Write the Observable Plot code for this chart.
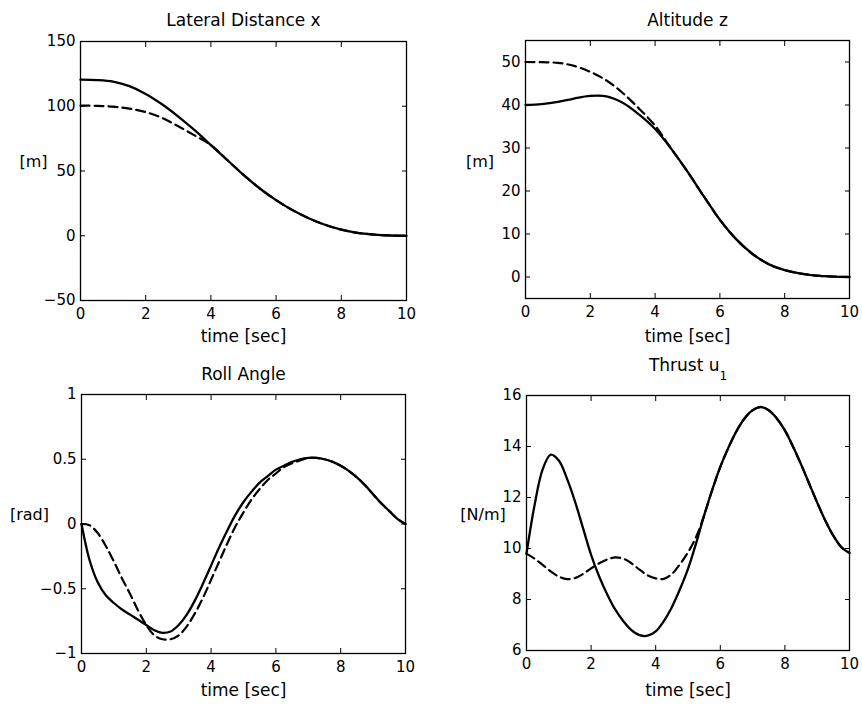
<!DOCTYPE html>
<html>
<head>
<meta charset="utf-8">
<script src="https://cdn.jsdelivr.net/npm/d3@7"></script>
<script src="https://cdn.jsdelivr.net/npm/@observablehq/plot@0.6"></script>
<style>
  body { margin: 0; background: #fff; }
  #wrap { position: relative; width: 862px; height: 705px; overflow: hidden; background: #fff; }
  #wrap > svg { position: absolute; }
</style>
</head>
<body>
<div id="wrap"></div>
<script>
// ---- time grids ----
const time05 = [0,0.5,1,1.5,2,2.5,3,3.5,4,4.5,5,5.5,6,6.5,7,7.5,8,8.5,9,9.5,10];
const time025 = [0,0.25,0.5,0.75,1,1.25,1.5,1.75,2,2.25,2.5,2.75,3,3.25,3.5,3.75,4,4.25,4.5,4.75,5,5.25,5.5,5.75,6,6.25,6.5,6.75,7,7.25,7.5,7.75,8,8.25,8.5,8.75,9,9.25,9.5,9.75,10];

// ---- Lateral Distance x [m] (step 0.5 s) ----
const latActual = [120.5,120.2,119,115.5,109.5,101.5,92,81.5,70,58.5,47,36.5,27.5,19.8,13.5,8.5,4.7,2.2,0.9,0.2,0];
const latRef    = [100.5,100.3,99.7,98.2,95.5,91,84.5,77.5,70,58.5,47,36.5,27.5,19.8,13.5,8.5,4.7,2.2,0.9,0.2,0];

// ---- Altitude z [m] (step 0.5 s) ----
const altActual = [40,40.2,40.7,41.5,42.1,42,40.5,37.8,34.4,29.8,24.5,18.8,13.3,8.8,5.4,3,1.6,0.8,0.3,0.1,0];
const altRef    = [50,49.95,49.8,49.1,47.7,45.7,42.8,39.2,35.2,29.8,24.5,18.8,13.3,8.8,5.4,3,1.6,0.8,0.3,0.1,0];

// ---- Roll Angle [rad] (step 0.25 s) ----
const rollActual = [0,-0.28,-0.45,-0.55,-0.61,-0.66,-0.70,-0.74,-0.78,-0.82,-0.84,-0.83,-0.78,-0.70,-0.59,-0.46,-0.32,-0.18,-0.05,0.07,0.17,0.25,0.32,0.37,0.42,0.45,0.48,0.50,0.51,0.51,0.50,0.48,0.45,0.41,0.36,0.30,0.23,0.16,0.10,0.04,0];
const rollRef    = [0,-0.01,-0.07,-0.17,-0.29,-0.42,-0.54,-0.67,-0.78,-0.86,-0.89,-0.89,-0.86,-0.79,-0.69,-0.57,-0.43,-0.29,-0.15,-0.02,0.09,0.19,0.27,0.34,0.39,0.44,0.47,0.49,0.51,0.51,0.50,0.48,0.45,0.41,0.36,0.30,0.23,0.16,0.10,0.04,0];

// ---- Thrust u1 [N/m] (step 0.25 s) ----
const thrustActual = [9.8,11.7,13.1,13.68,13.45,12.75,11.85,10.8,9.75,8.9,8.2,7.6,7.15,6.8,6.6,6.58,6.75,7.15,7.7,8.4,9.2,10.2,11.3,12.3,13.2,13.95,14.6,15.1,15.42,15.55,15.42,15.1,14.63,14.0,13.3,12.55,11.8,11.1,10.5,10.05,9.82];
const thrustRef    = [9.8,9.6,9.36,9.1,8.9,8.8,8.84,9.0,9.22,9.42,9.57,9.65,9.6,9.42,9.17,8.95,8.83,8.81,9.0,9.38,9.85,10.45,11.3,12.3,13.2,13.95,14.6,15.1,15.42,15.55,15.42,15.1,14.63,14.0,13.3,12.55,11.8,11.1,10.5,10.05,9.82];

// ---- ticks & labels ----
const xTicks = [0,2,4,6,8,10];
const latTicks = [-50,0,50,100,150];
const altTicks = [0,10,20,30,40,50];
const rollTicks = [-1,-0.5,0,0.5,1];
const thrustTicks = [6,8,10,12,14,16];
const titles = ["Lateral Distance x", "Altitude z", "Roll Angle", "Thrust u1"];
const yLabels = ["[m]", "[m]", "[rad]", "[N/m]"];
const xLabel = "time [sec]";

const FONT = "DejaVu Sans";
const fmt = d => (d < 0 ? "\u2212" : "") + Math.abs(d);

function panel(cfg) {
  const solid = cfg.t.map((t, i) => ({t, v: cfg.solid[i]}));
  const dashed = cfg.t.map((t, i) => ({t, v: cfg.dashed[i]}));
  const svg = Plot.plot({
    width: cfg.w, height: cfg.h,
    marginLeft: cfg.m[0], marginRight: cfg.m[1], marginTop: cfg.m[2], marginBottom: cfg.m[3],
    style: {fontFamily: FONT, fontSize: "15px", background: "transparent", color: "black"},
    x: {domain: [0, 10]},
    y: {domain: cfg.yDomain},
    marks: [
      Plot.axisX({anchor: "bottom", ticks: xTicks, tickSize: -5, tickPadding: 13, label: null, fontSize: 15}),
      Plot.axisX({anchor: "top", ticks: xTicks, tickSize: -5, tickFormat: () => "", label: null}),
      Plot.axisY({anchor: "left", ticks: cfg.yTicks, tickSize: -5, tickPadding: 10, tickFormat: fmt, label: null, fontSize: 15}),
      Plot.axisY({anchor: "right", ticks: cfg.yTicks, tickSize: -5, tickFormat: () => "", label: null}),
      Plot.line(dashed, {x: "t", y: "v", stroke: "black", strokeWidth: 2.2, strokeDasharray: "9,5", curve: "catmull-rom"}),
      Plot.line(solid, {x: "t", y: "v", stroke: "black", strokeWidth: 2.3, curve: "catmull-rom"}),
      Plot.frame({stroke: "black", strokeWidth: 1.3}),
      Plot.text([cfg.title], {frameAnchor: "top", lineAnchor: "middle", dy: cfg.titleDy, fontSize: 17, fill: "black", className: "ptitle"}),
      Plot.text([xLabel], {frameAnchor: "bottom", lineAnchor: "middle", dy: cfg.xlDy, fontSize: 17, fill: "black"}),
      Plot.text([cfg.ylabel], {frameAnchor: "left", lineAnchor: "middle", dx: cfg.ylDx, dy: cfg.ylDy, fontSize: 16, textAnchor: "middle", fill: "black"})
    ]
  });
  if (cfg.subscript) {
    // render trailing "1" as a real subscript
    svg.querySelectorAll("text").forEach(el => {
      if (el.textContent === cfg.title) {
        const main = cfg.title.slice(0, -1);
        const sub = cfg.title.slice(-1);
        el.textContent = main;
        const ts = document.createElementNS("http://www.w3.org/2000/svg", "tspan");
        ts.setAttribute("dy", "9");
        ts.setAttribute("font-size", "12");
        ts.textContent = sub;
        el.appendChild(ts);
      }
    });
  }
  svg.style.left = cfg.left + "px";
  svg.style.top = cfg.top + "px";
  document.getElementById("wrap").appendChild(svg);
}

panel({left: 0, top: 0, w: 431, h: 352, m: [80, 25, 41, 52], yDomain: [-50, 150], yTicks: latTicks,
  t: time05, solid: latActual, dashed: latRef, title: titles[0], ylabel: yLabels[0],
  titleDy: -21, xlDy: 36, ylDx: -47, ylDy: -9});
panel({left: 431, top: 0, w: 431, h: 352, m: [94, 13, 40, 54], yDomain: [-5, 55], yTicks: altTicks,
  t: time05, solid: altActual, dashed: altRef, title: titles[1], ylabel: yLabels[1],
  titleDy: -20, xlDy: 38, ylDx: -45.5, ylDy: -8});
panel({left: 0, top: 352, w: 431, h: 353, m: [81, 26, 42, 52], yDomain: [-1, 1], yTicks: rollTicks,
  t: time025, solid: rollActual, dashed: rollRef, title: titles[2], ylabel: yLabels[2],
  titleDy: -20, xlDy: 37, ylDx: -52, ylDy: -9});
panel({left: 431, top: 352, w: 431, h: 353, m: [95, 13, 43, 55], yDomain: [6, 16], yTicks: thrustTicks,
  t: time025, solid: thrustActual, dashed: thrustRef, title: titles[3], ylabel: yLabels[3], subscript: true,
  titleDy: -30, xlDy: 40, ylDx: -43.5, ylDy: -8.5});
</script>
</body>
</html>
